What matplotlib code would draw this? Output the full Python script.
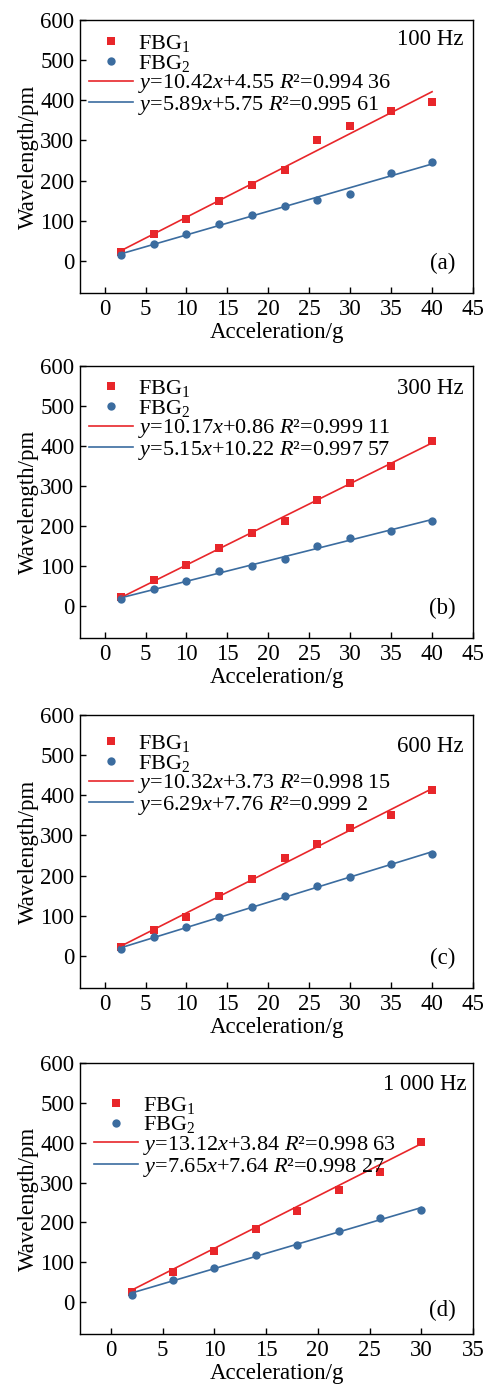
"""Wavelength shift of FBG1 / FBG2 against acceleration at four excitation frequencies."""

import numpy as np
import matplotlib
matplotlib.use("Agg")
import matplotlib.pyplot as plt

plt.rcParams["font.family"] = ["Liberation Serif", "DejaVu Serif"]
plt.rcParams["mathtext.fontset"] = "custom"
plt.rcParams["mathtext.rm"] = "Liberation Serif"
plt.rcParams["mathtext.it"] = "Liberation Serif:italic"
FS = 16.5
plt.rcParams["font.size"] = FS

RED = "#e8262a"
BLUE = "#3b6c9f"

# acceleration levels (g)
acc_40 = [2, 6, 10, 14, 18, 22, 26, 30, 35, 40]
acc_30 = [2, 6, 10, 14, 18, 22, 26, 30]

# (a) 100 Hz
fbg1_100 = [23, 66, 105, 148, 188, 227, 300, 335, 373, 395]
fbg2_100 = [15, 43, 66, 91, 114, 136, 152, 167, 219, 246]
# (b) 300 Hz
fbg1_300 = [23, 65, 103, 145, 183, 212, 265, 308, 351, 413]
fbg2_300 = [17, 43, 63, 87, 100, 118, 150, 171, 188, 213]
# (c) 600 Hz
fbg1_600 = [22, 64, 98, 149, 191, 245, 279, 319, 351, 414]
fbg2_600 = [17, 46, 73, 96, 121, 150, 175, 196, 230, 255]
# (d) 1000 Hz
fbg1_1000 = [25, 75, 129, 183, 228, 281, 327, 402]
fbg2_1000 = [18, 55, 85, 118, 144, 179, 211, 230]

# fitted slope, intercept and R^2 text as printed in the legends
fit1 = [(10.42, 4.55, "0.994 36"), (10.17, 0.86, "0.999 11"),
        (10.32, 3.73, "0.998 15"), (13.12, 3.84, "0.998 63")]
fit2 = [(5.89, 5.75, "0.995 61"), (5.15, 10.22, "0.997 57"),
        (6.29, 7.76, "0.999 2"), (7.65, 7.64, "0.998 27")]

freqs = ["100 Hz", "300 Hz", "600 Hz", "1 000 Hz"]
tags = ["(a)", "(b)", "(c)", "(d)"]
xs = [acc_40, acc_40, acc_40, acc_30]
ys1 = [fbg1_100, fbg1_300, fbg1_600, fbg1_1000]
ys2 = [fbg2_100, fbg2_300, fbg2_600, fbg2_1000]
xmax = [45, 45, 45, 35]

# axes boxes in pixels (left, top, right, bottom) of a 484x1387 figure
W, H = 484, 1387
boxes = [(80, 20, 473, 293), (80, 366, 473, 638),
         (80, 715, 473, 988), (80, 1063, 473, 1334)]
# per-panel placement of legend / frequency / panel tag (axes fraction)
leg_anchor = [(0.022, 0.952), (0.022, 0.956), (0.022, 0.934), (0.035, 0.883)]
freq_pos = [(0.977, 0.93), (0.977, 0.916), (0.977, 0.886), (0.985, 0.92)]
tag_pos = [(0.955, 0.11), (0.955, 0.11), (0.955, 0.11), (0.955, 0.088)]


def fmt(v):
    return f"{v:.2f}"


fig = plt.figure(figsize=(W / 100, H / 100), dpi=100)

for i in range(4):
    l, t, r, b = boxes[i]
    ax = fig.add_axes([l / W, 1 - b / H, (r - l) / W, (b - t) / H])
    x = np.array(xs[i])
    k1, b1, r1 = fit1[i]
    k2, b2, r2 = fit2[i]
    xl = np.array([x[0], x[-1]])

    ax.plot(x, ys1[i], "s", color=RED, ms=5.5, mew=0, label="FBG$_1$")
    ax.plot(x, ys2[i], "o", color=BLUE, ms=6, mew=0, label="FBG$_2$")
    ax.plot(xl, k1 * xl + b1, "-", color=RED, lw=1.2,
            label=f"$y$={fmt(k1)}$x$+{fmt(b1)} $R$\u00b2={r1}")
    ax.plot(xl, k2 * xl + b2, "-", color=BLUE, lw=1.2,
            label=f"$y$={fmt(k2)}$x$+{fmt(b2)} $R$\u00b2={r2}")

    ax.set_xlim(-3, xmax[i])
    ax.set_ylim(-80, 600)
    ax.set_xticks(np.arange(0, xmax[i] + 1, 5))
    ax.set_yticks(np.arange(0, 601, 100))
    ax.tick_params(direction="in", length=4, width=1, labelsize=FS, pad=4)
    for s in ax.spines.values():
        s.set_linewidth(1)
    ax.set_xlabel("Acceleration/g", fontsize=FS, labelpad=2)
    ax.set_ylabel("Wavelength/pm", fontsize=FS, labelpad=1)

    ax.legend(loc="upper left", bbox_to_anchor=leg_anchor[i], frameon=False,
              fontsize=16, handlelength=2.0, handletextpad=0.2,
              labelspacing=-0.06, borderaxespad=0.0, borderpad=0.0)
    ax.text(*freq_pos[i], freqs[i], transform=ax.transAxes,
            ha="right", va="center", fontsize=FS)
    ax.text(*tag_pos[i], tags[i], transform=ax.transAxes,
            ha="right", va="center", fontsize=FS)

fig.savefig("out.png", dpi=100)
